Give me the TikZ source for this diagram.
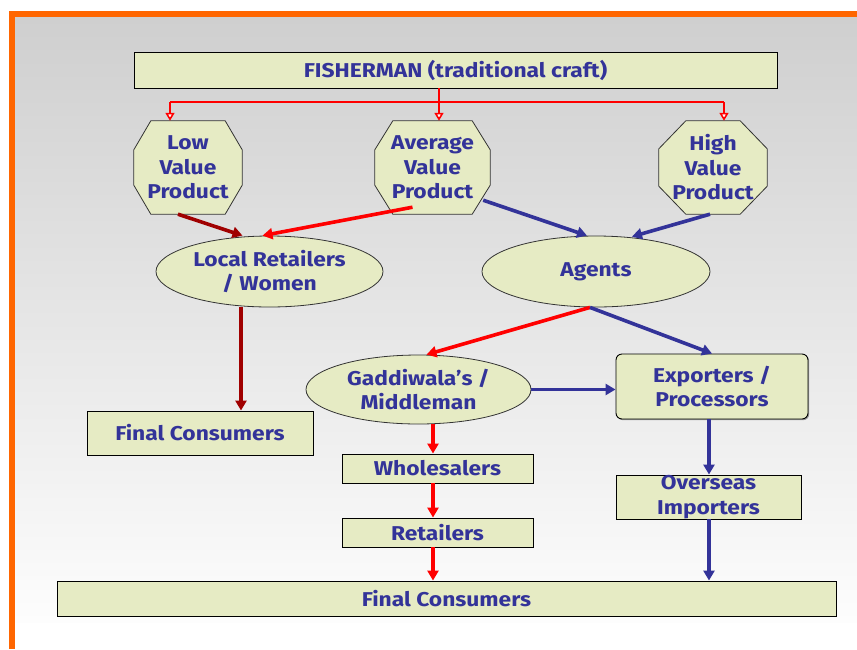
\documentclass[tikz,border=0pt]{standalone}
\usepackage{fontspec}
\setmainfont[FakeStretch=1.14]{Fira Sans}
\usetikzlibrary{arrows.meta,shapes.geometric,calc,shadows}

\definecolor{txtblue}{HTML}{333399}
\definecolor{boxfill}{HTML}{E6EBC4}
\definecolor{framebar}{HTML}{FF6600}
\definecolor{darkred}{HTML}{A00000}
\definecolor{flowred}{HTML}{FF0000}
\definecolor{flowblue}{HTML}{333399}
\definecolor{bgtop}{HTML}{CFCFCF}
\definecolor{bgbottom}{HTML}{FDFDFD}

\pgfdeclarelayer{bg}
\pgfdeclarelayer{shapes}
\pgfsetlayers{bg,shapes,main}

\tikzset{
  lbl/.style={text=txtblue, font=\fontsize{20}{24.5}\selectfont\bfseries,
    align=center, inner sep=0pt},
  boxshadow/.style={drop shadow={shadow xshift=1.2pt, shadow yshift=-1.2pt,
    fill=black, opacity=0.35}},
  box/.style={lbl, draw=black, line width=0.9pt, fill=boxfill, boxshadow},
  rbox/.style={box, rounded corners=6pt},
  ell/.style={lbl, ellipse, draw=black!80, line width=0.8pt, fill=boxfill},
  octline/.style={draw=black!80, line width=0.8pt, fill=boxfill},
  flowtip/.style={-{Triangle[length=10pt,width=11pt]}},
  redflow/.style={flowred, line width=3.6pt, flowtip},
  blueflow/.style={flowblue, line width=3.6pt, flowtip},
  brownflow/.style={darkred, line width=3.6pt, flowtip},
  feedline/.style={flowred, line width=1.3pt},
  feedtip/.style={flowred, line width=2.8pt,
    -{Triangle[open, length=8pt, width=9pt, line width=1.6pt, fill=white]}}
}

% octagon drawn round a named node: #2 horizontal cut, #3 vertical cut
\newcommand\octoround[3]{%
  \draw[octline] ($(#1.north west)+(#2,0)$) -- ($(#1.north east)+(-#2,0)$)
    -- ($(#1.north east)+(0,#3)$) -- ($(#1.south east)+(0,-#3)$)
    -- ($(#1.south east)+(-#2,0)$) -- ($(#1.south west)+(#2,0)$)
    -- ($(#1.south west)+(0,-#3)$) -- ($(#1.north west)+(0,#3)$) -- cycle;}

\begin{document}
\begin{tikzpicture}[x=1pt, y=-1pt]
\useasboundingbox (0,0) rectangle (857,649);

% page, gradient panel and orange frame
\begin{pgfonlayer}{bg}
  \fill[white] (0,0) rectangle (857,649);
  \shade[top color=bgtop, bottom color=bgbottom] (15,17) rectangle (857,622);
  \fill[framebar] (9,11) rectangle (857,17);
  \fill[framebar] (9,11) rectangle (15,649);
\end{pgfonlayer}

% top source
\node[box, minimum width=643, minimum height=36] (fish) at (455.5,70)
  {FISHERMAN (traditional craft)};

% product grades
\node[lbl, minimum width=108, minimum height=93] (low) at (188,167.5)
  {Low\\Value\\Product};
\node[lbl, minimum width=115, minimum height=93] (avg) at (432.5,167.5)
  {Average\\Value\\Product};
\node[lbl, minimum width=108, minimum height=93] (high) at (713,167.5)
  {High\\Value\\Product};
\begin{pgfonlayer}{shapes}
  \octoround{low}{17}{29}
  \octoround{avg}{18}{29}
  \octoround{high}{27}{28}
\end{pgfonlayer}

% intermediaries
\node[ell, minimum width=227, minimum height=71] (local) at (269.5,271.5)
  {Local Retailers\\/ Women};
\node[ell, minimum width=228, minimum height=71] (agents) at (596,271.5)
  {Agents};
\node[ell, minimum width=225, minimum height=69] (gadd) at (418.5,389.5)
  {Gaddiwala’s /\\Middleman};
\node[rbox, minimum width=192, minimum height=65] (exp) at (712,386.5)
  {Exporters /\\Processors};

% end points
\node[box, minimum width=226, minimum height=44] (fcleft) at (200,433)
  {Final Consumers};
\node[box, minimum width=191, minimum height=29] (whole) at (437.5,468.5)
  {Wholesalers};
\node[box, minimum width=191, minimum height=29] (retail) at (437.5,532.5)
  {Retailers};
\node[box, minimum width=185, minimum height=44] (oversea) at (708.5,497)
  {Overseas\\Importers};
\node[box, minimum width=779, minimum height=35] (fcall) at (446.5,598.5)
  {Final Consumers};

% columns used by the vertical connectors
\coordinate (feedl) at (170,102);
\coordinate (feedm) at (439,102);
\coordinate (feedr) at (724,102);
\coordinate (browncol) at (241,0);
\coordinate (redcol) at (433,0);
\coordinate (bluecol) at (709,0);

% fisherman feed to the three grades
\draw[feedline] (feedl) -- (feedr);
\draw[feedtip] (fish.south -| feedm) -- (feedm |- avg.north);
\draw[feedtip] (feedl) -- (feedl |- low.north);
\draw[feedtip] (feedr) -- (feedr |- high.north);

% grades to intermediaries
\draw[brownflow] ($(low.south)+(-10,0)$) -- ($(local.north)+(-27,0)$);
\draw[redflow] ($(avg.south)+(-20,-7)$) -- ($(local.north)+(-7,0)$);
\draw[blueflow] ($(avg.south east)+(-7,-14)$) -- ($(agents.north)+(-9,0)$);
\draw[blueflow] ($(high.south)+(-3,0)$) -- ($(agents.north)+(36,1)$);

% local retailers to consumers
\draw[brownflow] (browncol |- local.south) -- (browncol |- fcleft.north);

% agents onwards
\draw[redflow] ($(agents.south)+(-6,0)$) -- ($(gadd.north)+(8,0)$);
\draw[blueflow] ($(agents.south)+(-6,0)$) -- (exp.north);
\draw[blueflow] (gadd.east) -- (gadd.east -| exp.west);

% domestic chain
\draw[redflow] (redcol |- gadd.south) -- (redcol |- whole.north);
\draw[redflow] (redcol |- whole.south) -- (redcol |- retail.north);
\draw[redflow] (redcol |- retail.south) -- (redcol |- fcall.north);

% export chain
\draw[blueflow] (bluecol |- exp.south) -- (bluecol |- oversea.north);
\draw[blueflow] (bluecol |- oversea.south) -- (bluecol |- fcall.north);
\end{tikzpicture}
\end{document}
